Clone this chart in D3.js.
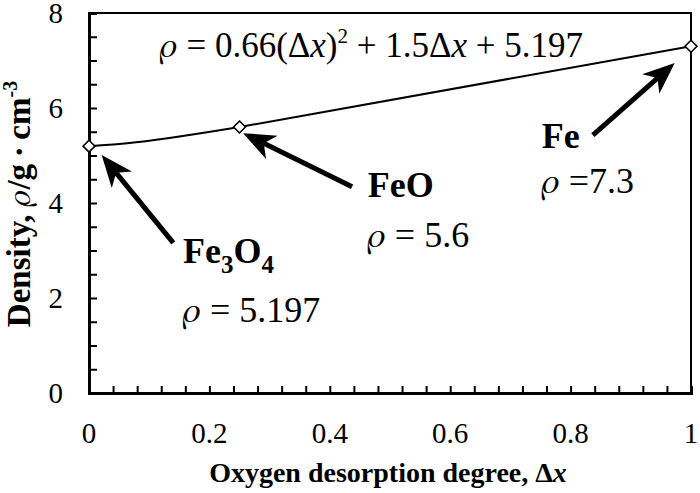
<!DOCTYPE html>
<html><head><meta charset="utf-8">
<script src="https://cdn.jsdelivr.net/npm/d3@7"></script>
<style>body{margin:0;background:#fff}svg{display:block}</style>
</head><body><svg id="c" width="700" height="493" font-family="Liberation Serif"></svg>
<script>
// data
const oxygenDegree = [0, 0.25, 1];
const density = [5.197, 5.6, 7.3];
const phases = ["Fe3O4", "FeO", "Fe"];
const densityLabels = ["\u03C1 = 5.197", "\u03C1 = 5.6", "\u03C1 =7.3"];
const xTicks = [0, 0.2, 0.4, 0.6, 0.8, 1];
const yTicks = [0, 2, 4, 6, 8];
// annotation anchors in data units
const annX = [0.156, 0.463, 0.752];
const annNameY = [2.74, 4.12, 5.16];
const annValY = [1.49, 3.07, 4.21];
const arrowTail = [[0.14, 3.16], [0.437, 4.34], [0.837, 5.43]];
const arrowTip = [[0.021, 5.01], [0.256, 5.47], [0.973, 6.95]];

const SERIF = "Liberation Serif";
const RHO = "FreeSerif";
const svg = d3.select("#c");
const m = {l: 89, r: 691, t: 13, b: 393};
const x = d3.scaleLinear().domain([0, 1]).range([m.l, m.r]);
const y = d3.scaleLinear().domain([0, 8]).range([m.b, m.t]);

// frame
svg.append("rect").attr("x", m.l).attr("y", m.t).attr("width", m.r - m.l).attr("height", m.b - m.t)
  .attr("fill", "none").attr("stroke", "#000").attr("stroke-width", 2);

// y axis
const yAx = svg.append("g").attr("transform", `translate(${m.l},0)`)
  .call(d3.axisRight(y).tickValues(d3.range(0, 8.01, 0.5)).tickSize(8).tickFormat(""));
yAx.select(".domain").attr("stroke-width", 3);
yAx.selectAll(".tick line").attr("stroke-width", 2);
svg.append("g").selectAll("text").data(yTicks).join("text")
  .attr("font-family", SERIF).attr("font-size", 29)
  .attr("x", 63).attr("y", d => y(d) + 10).attr("text-anchor", "end").text(d => d);

// x axis
const xAx = svg.append("g").attr("transform", `translate(0,${m.b})`)
  .call(d3.axisTop(x).tickValues(d3.range(0, 1.001, 0.04)).tickSize(7).tickFormat(""));
xAx.select(".domain").attr("stroke-width", 3);
xAx.selectAll(".tick line").attr("stroke-width", 2);
svg.append("g").selectAll("text").data(xTicks).join("text")
  .attr("font-family", SERIF).attr("font-size", 29)
  .attr("x", d => x(d)).attr("y", 443).attr("text-anchor", "middle").text(d => d);

// axis titles
const xt = svg.append("text").attr("x", 388).attr("y", 482).attr("text-anchor", "middle")
  .attr("font-family", SERIF).attr("font-size", 28).attr("font-weight", "bold");
xt.append("tspan").text("Oxygen desorption degree, \u0394");
xt.append("tspan").attr("font-style", "italic").text("x");

const yt = svg.append("text").attr("transform", "translate(30,204) rotate(-90)").attr("text-anchor", "middle")
  .attr("font-family", SERIF).attr("font-size", 33).attr("font-weight", "bold");
yt.append("tspan").text("Density, ");
yt.append("tspan").attr("font-family", RHO).attr("font-style", "italic").attr("font-weight", "normal").text("\u03C1");
yt.append("tspan").text("/g\u2009\u00B7\u2009cm");
yt.append("tspan").attr("dy", -13).attr("font-size", 20).text("-3");

// curve
const pts = oxygenDegree.map((d, i) => [d, density[i]]);
svg.append("path").datum(pts)
  .attr("d", d3.line().x(d => x(d[0])).y(d => y(d[1])).curve(d3.curveNatural))
  .attr("fill", "none").attr("stroke", "#000").attr("stroke-width", 2);
svg.append("g").selectAll("path").data(pts).join("path")
  .attr("transform", d => `translate(${x(d[0])},${y(d[1])})`)
  .attr("d", d3.symbol(d3.symbolDiamond2, 90)())
  .attr("fill", "#fff").attr("stroke", "#000").attr("stroke-width", 1.6);

// equation
const eq = svg.append("text").attr("x", x(0.118)).attr("y", y(7.07))
  .attr("font-family", SERIF).attr("font-size", 35);
eq.append("tspan").attr("font-family", RHO).attr("font-style", "italic").text("\u03C1");
eq.append("tspan").text(" = 0.66(\u0394");
eq.append("tspan").attr("font-style", "italic").text("x");
eq.append("tspan").text(")");
eq.append("tspan").attr("dy", -14).attr("font-size", 21).text("2");
eq.append("tspan").attr("dy", 14).text(" + 1.5\u0394");
eq.append("tspan").attr("font-style", "italic").text("x");
eq.append("tspan").text(" + 5.197");

// annotations
phases.forEach((p, i) => {
  const t = svg.append("text").attr("x", x(annX[i])).attr("y", y(annNameY[i]))
    .attr("font-family", SERIF).attr("font-size", 36).attr("font-weight", "bold");
  if (p === "Fe3O4") {
    t.append("tspan").text("Fe");
    t.append("tspan").attr("dy", 10).attr("font-size", 25).text("3");
    t.append("tspan").attr("dy", -10).text("O");
    t.append("tspan").attr("dy", 10).attr("font-size", 25).text("4");
  } else t.text(p);
  const v = svg.append("text").attr("x", x(annX[i])).attr("y", y(annValY[i]))
    .attr("font-family", SERIF).attr("font-size", 36);
  const parts = densityLabels[i].split("\u03C1");
  v.append("tspan").attr("font-family", RHO).attr("font-style", "italic").text("\u03C1");
  v.append("tspan").text(parts[1]);

  // arrow
  const x0 = x(arrowTail[i][0]), y0 = y(arrowTail[i][1]);
  const x1 = x(arrowTip[i][0]), y1 = y(arrowTip[i][1]);
  const ang = Math.atan2(y1 - y0, x1 - x0);
  const L = 32, W = 13, N = 23;
  const ux = Math.cos(ang), uy = Math.sin(ang), px = -uy, py = ux;
  const bx = x1 - ux * N, by = y1 - uy * N;
  svg.append("line").attr("x1", x0).attr("y1", y0).attr("x2", bx).attr("y2", by)
    .attr("stroke", "#000").attr("stroke-width", 5);
  const head = [[x1, y1],
    [x1 - ux * L + px * W, y1 - uy * L + py * W],
    [bx, by],
    [x1 - ux * L - px * W, y1 - uy * L - py * W]];
  svg.append("path").attr("d", "M" + head.map(h => h.join(",")).join("L") + "Z").attr("fill", "#000");
});
</script></body></html>
